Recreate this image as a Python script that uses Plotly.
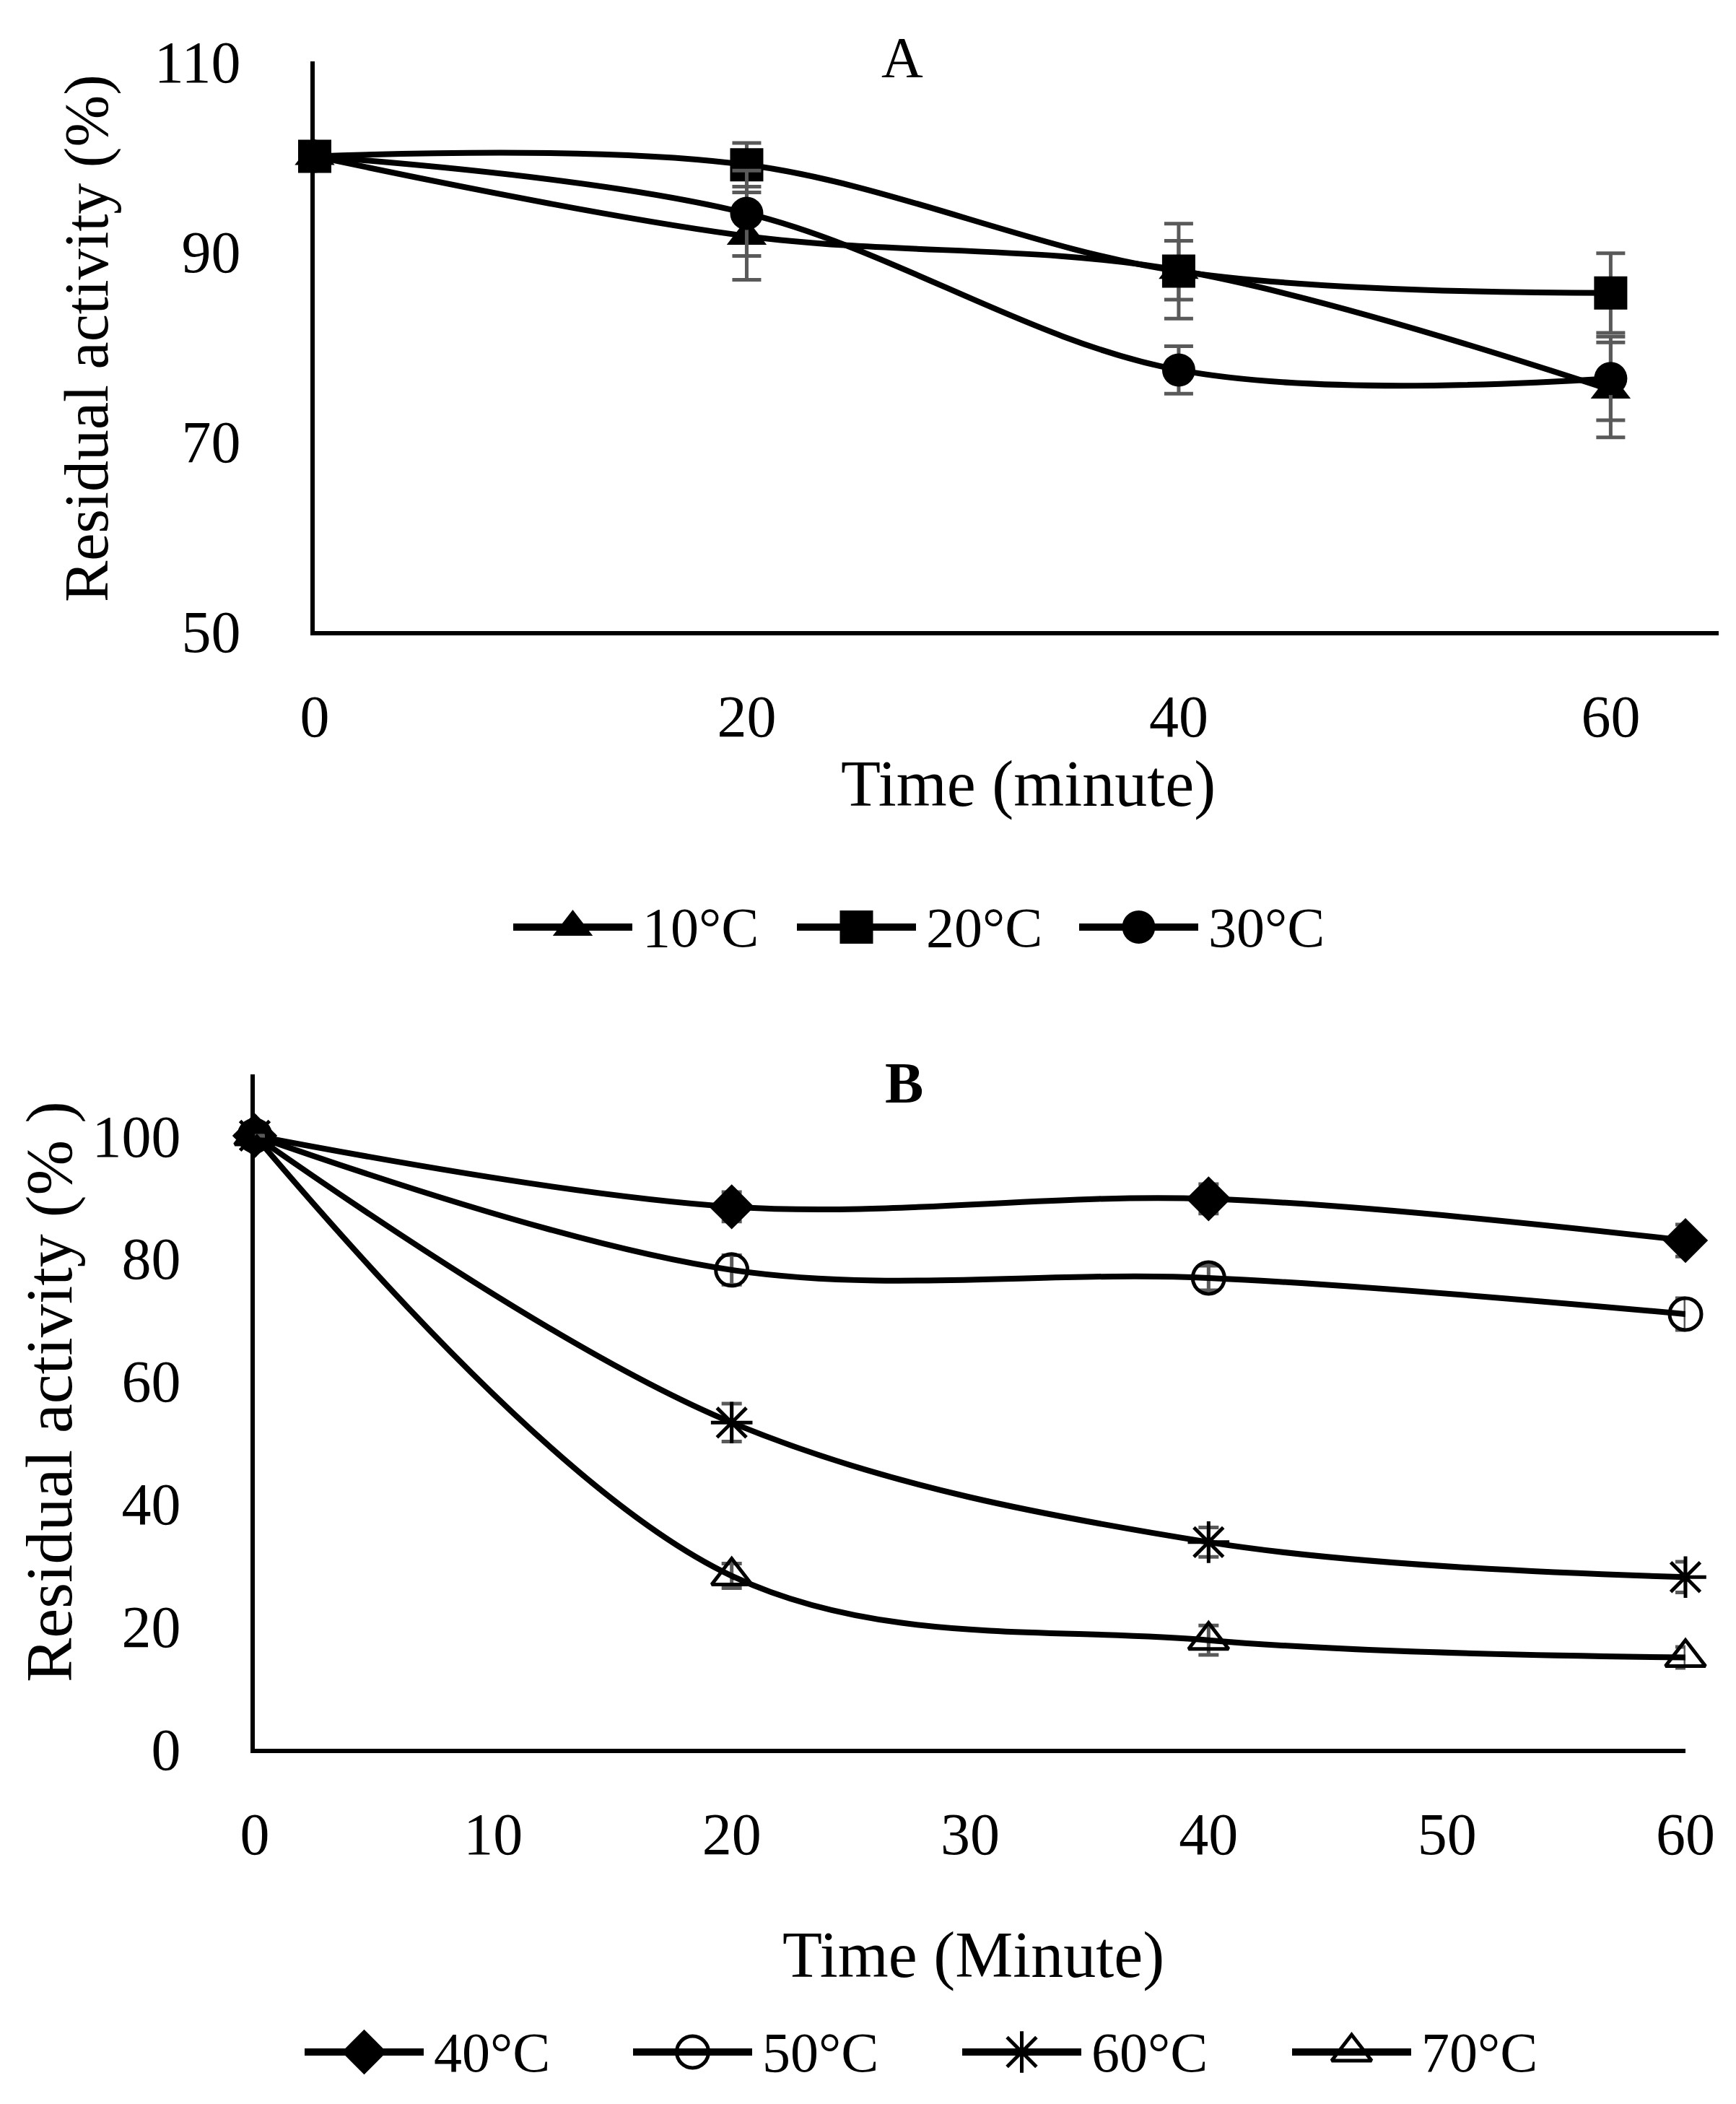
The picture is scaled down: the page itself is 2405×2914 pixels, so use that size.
import plotly.graph_objects as go

# Window size of the reference picture; the page body adds an 8 px margin
W, H = 2405, 2914
PAD = 8
FW, FH = W - 2 * PAD, H - 2 * PAD

# ---- Panel A data (thermal stability at low temperatures) ----
time_a = [0, 20, 40, 60]
act_10 = [100, 91.6, 88.0, 75.4]
err_10 = [0, 4.6, 3.1, 5.0]
act_20 = [100, 99.1, 87.9, 85.6]
err_20 = [0, 2.3, 5.0, 4.2]
act_30 = [100, 94.0, 77.5, 76.6]
err_30 = [0, 4.5, 2.5, 4.4]

# ---- Panel B data (thermal stability at high temperatures) ----
time_b = [0, 20, 40, 60]
act_40 = [100, 88.4, 89.7, 82.9]
err_40 = [0, 2.4, 2.4, 2.6]
act_50 = [100, 78.1, 76.8, 70.9]
err_50 = [0, 2.4, 2.0, 2.6]
act_60 = [100, 53.2, 33.7, 28.0]
err_60 = [0, 3.1, 2.4, 2.5]
act_70 = [100, 28.2, 17.7, 14.9]
err_70 = [0, 2.0, 2.4, 1.7]

labels_a = ["10°C", "20°C", "30°C"]
labels_b = ["40°C", "50°C", "60°C", "70°C"]

FONT = "Liberation Serif"
ERR_COLOR = "#595959"


# window pixel -> paper fraction
def px_x(x):
    return (x - PAD) / FW


def px_y(y):
    return 1 - (y - PAD) / FH


fig = go.Figure()

# panel A series
series_a = [
    (labels_a[0], act_10, err_10, "triangle-up", 48),
    (labels_a[1], act_20, err_20, "square", 46),
    (labels_a[2], act_30, err_30, "circle", 46),
]
for name, vals, errs, sym, size in series_a:
    fig.add_trace(go.Scatter(
        x=time_a, y=vals, name=name, mode="lines+markers",
        line=dict(color="black", width=8, shape="spline", smoothing=1),
        marker=dict(symbol=sym, size=size, color="black"),
        error_y=dict(type="data", array=errs, visible=True,
                     color=ERR_COLOR, thickness=5, width=20),
        xaxis="x", yaxis="y", cliponaxis=False, showlegend=False,
    ))

# panel B series
series_b = [
    (labels_b[0], act_40, err_40, "diamond", 48, 0),
    (labels_b[1], act_50, err_50, "circle-open", 44, 5),
    (labels_b[2], act_60, err_60, "asterisk-open", 48, 5),
    (labels_b[3], act_70, err_70, "triangle-up-open", 48, 5),
]
for name, vals, errs, sym, size, lw in series_b:
    fig.add_trace(go.Scatter(
        x=time_b, y=vals, name=name, mode="lines+markers",
        line=dict(color="black", width=8, shape="spline", smoothing=1),
        marker=dict(symbol=sym, size=size, color="black",
                    line=dict(color="black", width=lw)),
        error_y=dict(type="data", array=errs, visible=True,
                     color=ERR_COLOR, thickness=5, width=14),
        xaxis="x2", yaxis="y2", cliponaxis=False, showlegend=False,
    ))

# hand-made legends (long line keys like the Excel original)
KEY_LEN = 165
legend_a_x = [711, 1104, 1495]
legend_b_x = [422, 877, 1333, 1790]

annotations = []
for (name, vals, errs, sym, size), x0 in zip(series_a, legend_a_x):
    fig.add_trace(go.Scatter(x=[x0, x0 + KEY_LEN], y=[0, 0], mode="lines",
                             line=dict(color="black", width=10),
                             xaxis="x3", yaxis="y3", showlegend=False, cliponaxis=False))
    fig.add_trace(go.Scatter(x=[x0 + KEY_LEN / 2], y=[0], mode="markers",
                             marker=dict(symbol=sym, size=size, color="black"),
                             xaxis="x3", yaxis="y3", showlegend=False, cliponaxis=False))
    annotations.append(dict(x=x0 + KEY_LEN + 12, y=0, xref="x3", yref="y3",
                            text=name, showarrow=False, xanchor="left", yanchor="middle",
                            font=dict(family=FONT, size=78, color="black")))

for (name, vals, errs, sym, size, lw), x0 in zip(series_b, legend_b_x):
    fig.add_trace(go.Scatter(x=[x0, x0 + KEY_LEN], y=[0, 0], mode="lines",
                             line=dict(color="black", width=10),
                             xaxis="x4", yaxis="y4", showlegend=False, cliponaxis=False))
    fig.add_trace(go.Scatter(x=[x0 + KEY_LEN / 2], y=[0], mode="markers",
                             marker=dict(symbol=sym, size=size, color="black",
                                         line=dict(color="black", width=lw)),
                             xaxis="x4", yaxis="y4", showlegend=False, cliponaxis=False))
    annotations.append(dict(x=x0 + KEY_LEN + 12, y=0, xref="x4", yref="y4",
                            text=name, showarrow=False, xanchor="left", yanchor="middle",
                            font=dict(family=FONT, size=78, color="black")))


def paper_text(x, y, text, size, angle=0):
    return dict(x=px_x(x), y=px_y(y), xref="paper", yref="paper", text=text,
                showarrow=False, xanchor="center", yanchor="middle", textangle=angle,
                font=dict(family=FONT, size=size, color="black"))


# titles and axis titles
annotations += [
    paper_text(1250, 80, "A", 80),
    paper_text(1252, 1500, "<b>B</b>", 80),
    paper_text(120, 469, "Residual activity (%)", 86, -90),
    paper_text(68, 1928, "Residual activity (% )", 92, -90),
    paper_text(1424, 1086, "Time (minute)", 90),
    paper_text(1348, 2708, "Time (Minute)", 90),
]

axis_common = dict(showgrid=False, zeroline=False, showline=True, linecolor="black",
                   linewidth=6, ticks="", layer="below traces", automargin=False,
                   tickfont=dict(family=FONT, size=82, color="black"))


def leg_band(yc):
    return [px_y(yc) - 0.02, px_y(yc) + 0.02]


fig.update_layout(
    template="none",
    width=FW, height=FH,
    margin=dict(l=0, r=0, t=0, b=0, autoexpand=False),
    paper_bgcolor="white", plot_bgcolor="white",
    showlegend=False,
    xaxis=dict(domain=[px_x(436), px_x(2381)], range=[0, 65], dtick=20, tick0=0,
               anchor="y", ticklabelstandoff=42, **axis_common),
    yaxis=dict(domain=[px_y(874), px_y(85)], range=[50, 110], dtick=20, tick0=50,
               anchor="x", ticklabelstandoff=80, **axis_common),
    xaxis2=dict(domain=[px_x(353), px_x(2335)], range=[0, 60], dtick=10, tick0=0,
                anchor="y2", ticklabelstandoff=42, **axis_common),
    yaxis2=dict(domain=[px_y(2422), px_y(1488)], range=[0, 110], dtick=20, tick0=0,
                anchor="x2", ticklabelstandoff=80, **axis_common),
    xaxis3=dict(domain=[0, 1], range=[PAD, PAD + FW], visible=False, anchor="y3",
                automargin=False),
    yaxis3=dict(domain=leg_band(1284), range=[-1, 1], visible=False, anchor="x3",
                automargin=False),
    xaxis4=dict(domain=[0, 1], range=[PAD, PAD + FW], visible=False, anchor="y4",
                automargin=False),
    yaxis4=dict(domain=leg_band(2842), range=[-1, 1], visible=False, anchor="x4",
                automargin=False),
    annotations=annotations,
)

fig.write_html("out.html")
